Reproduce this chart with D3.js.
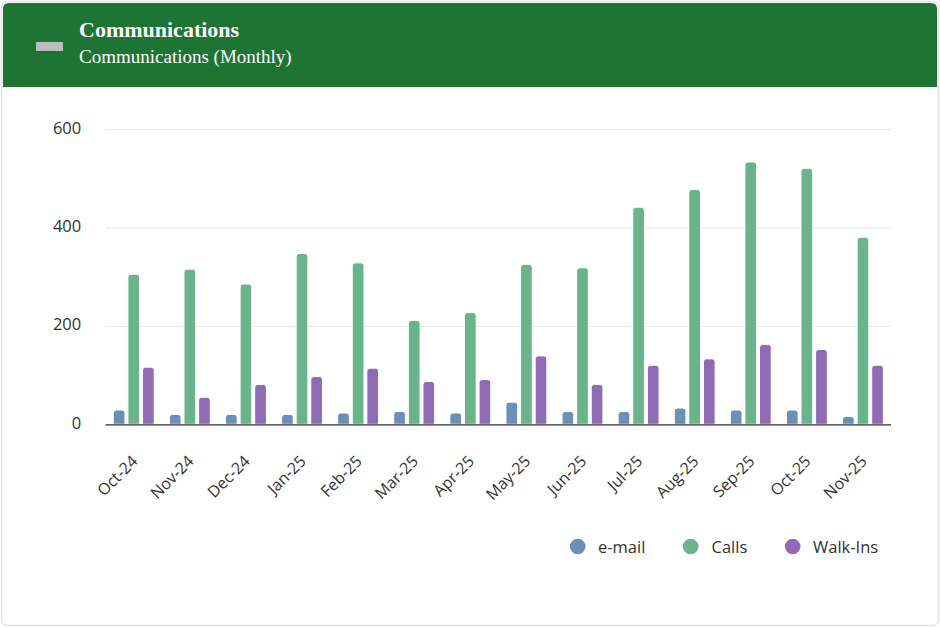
<!DOCTYPE html>
<html>
<head>
<meta charset="utf-8">
<script src="https://cdn.jsdelivr.net/npm/d3@7/dist/d3.min.js"></script>
<style>
  html, body { margin: 0; padding: 0; background: #ffffff; }
  svg { display: block; }
</style>
</head>
<body>
<svg id="chart" width="940" height="627"></svg>
<script>
// Monthly communications by channel
const months = ["Oct-24","Nov-24","Dec-24","Jan-25","Feb-25","Mar-25","Apr-25","May-25","Jun-25","Jul-25","Aug-25","Sep-25","Oct-25","Nov-25"];
const seriesNames = ["e-mail", "Calls", "Walk-Ins"];
const email   = [29, 20, 20, 20, 23, 26, 23, 45, 26, 26, 33, 29, 29, 16];
const calls   = [305, 315, 285, 347, 328, 211, 227, 325, 318, 441, 477, 533, 520, 380];
const walkIns = [116, 55, 81, 97, 114, 87, 91, 139, 81, 120, 133, 162, 152, 120];
const yTicks  = [0, 200, 400, 600];
const seriesColors = ["#6b8fb6", "#69b48d", "#8f6bb4"];

const seriesValues = [email, calls, walkIns];

const svg = d3.select("#chart");

// Card frame
svg.append("rect")
  .attr("x", 1.5).attr("y", 1.5).attr("width", 937).attr("height", 624)
  .attr("rx", 6).attr("fill", "#ffffff").attr("stroke", "#e3e3e3").attr("stroke-width", 1.5);

// Header band
const headerPath = d3.path();
headerPath.moveTo(3, 87);
headerPath.lineTo(3, 9);
headerPath.quadraticCurveTo(3, 3, 9, 3);
headerPath.lineTo(931, 3);
headerPath.quadraticCurveTo(937, 3, 937, 9);
headerPath.lineTo(937, 87);
headerPath.closePath();
svg.append("path").attr("d", headerPath.toString()).attr("fill", "#1d7433");

svg.append("rect").attr("x", 36).attr("y", 42).attr("width", 27).attr("height", 9).attr("fill", "#bdbdbd");

svg.append("text").attr("x", 79).attr("y", 37)
  .attr("font-family", "'Liberation Serif', 'Times New Roman', serif")
  .attr("font-weight", "bold").attr("font-size", 22).attr("fill", "#ffffff")
  .text("Communications");
svg.append("text").attr("x", 79).attr("y", 63)
  .attr("font-family", "'Liberation Serif', 'Times New Roman', serif")
  .attr("font-size", 19).attr("fill", "#ffffff")
  .text("Communications (Monthly)");

// Plot area
const plotLeft = 105.7, plotRight = 891, plotTop = 129, plotBottom = 424.3;

const x0 = d3.scaleBand().domain(months).range([plotLeft, plotRight]).paddingInner(0).paddingOuter(0);
const groupPad = 7.6;
const x1 = d3.scaleBand().domain(seriesNames)
  .range([groupPad, x0.bandwidth() - groupPad]).paddingInner(0.2).paddingOuter(0);
const y = d3.scaleLinear().domain([0, 600]).range([plotBottom, plotTop]);

const font = "'Open Sans', sans-serif";

// Grid lines
const yAxis = d3.axisLeft(y).tickValues(yTicks).tickSize(-(plotRight - plotLeft)).tickPadding(24.5);
const yg = svg.append("g").attr("transform", `translate(${plotLeft},0)`).call(yAxis);
yg.select(".domain").remove();
yg.selectAll(".tick line").attr("stroke", "#e6e6e6").attr("stroke-width", 1);
yg.selectAll(".tick text")
  .attr("font-family", font).attr("font-size", 16.5).attr("fill", "#333333")
  .attr("dy", "0.25em");

// Bars
const groups = svg.append("g").selectAll("g")
  .data(months).join("g")
  .attr("transform", d => `translate(${x0(d)},0)`);

function roundedTopBar(x, yTop, w, h, r) {
  r = Math.min(r, w / 2, h);
  const p = d3.path();
  p.moveTo(x, yTop + h);
  p.lineTo(x, yTop + r);
  p.quadraticCurveTo(x, yTop, x + r, yTop);
  p.lineTo(x + w - r, yTop);
  p.quadraticCurveTo(x + w, yTop, x + w, yTop + r);
  p.lineTo(x + w, yTop + h);
  p.closePath();
  return p.toString();
}

groups.selectAll("path")
  .data((d, i) => seriesNames.map((s, k) => ({ s, k, v: seriesValues[k][i] })))
  .join("path")
  .attr("d", d => roundedTopBar(x1(d.s), y(d.v), x1.bandwidth(), y(0) - y(d.v), 3))
  .attr("fill", d => seriesColors[d.k])
  .attr("stroke", "#ffffff").attr("stroke-width", 1);

// X axis baseline
svg.append("line").attr("x1", plotLeft).attr("x2", plotRight).attr("y1", plotBottom + 0.5).attr("y2", plotBottom + 0.5)
  .attr("stroke", "#333333").attr("stroke-width", 1.2);

// X labels
const xAxis = d3.axisBottom(x0).tickSize(0).tickPadding(0);
const xg = svg.append("g").attr("transform", `translate(0,${plotBottom})`).call(xAxis);
xg.select(".domain").remove();
xg.selectAll(".tick text")
  .attr("font-family", font).attr("font-size", 16).attr("fill", "#333333")
  .attr("text-anchor", "end")
  .attr("transform", "translate(1,34) rotate(-45)")
  .attr("dy", "0.35em");

// Legend
const legendItems = [
  { name: seriesNames[0], cx: 577.7, tx: 598 },
  { name: seriesNames[1], cx: 690.7, tx: 711.5 },
  { name: seriesNames[2], cx: 792.7, tx: 813 }
];
const lg = svg.append("g");
legendItems.forEach((d, i) => {
  lg.append("circle").attr("cx", d.cx).attr("cy", 546.5).attr("r", 7.8).attr("fill", seriesColors[i]);
  lg.append("text").attr("x", d.tx).attr("y", 547).attr("dy", "0.35em")
    .attr("font-family", font).attr("font-size", 16.5).attr("fill", "#333333")
    .text(d.name);
});
</script>
</body>
</html>
